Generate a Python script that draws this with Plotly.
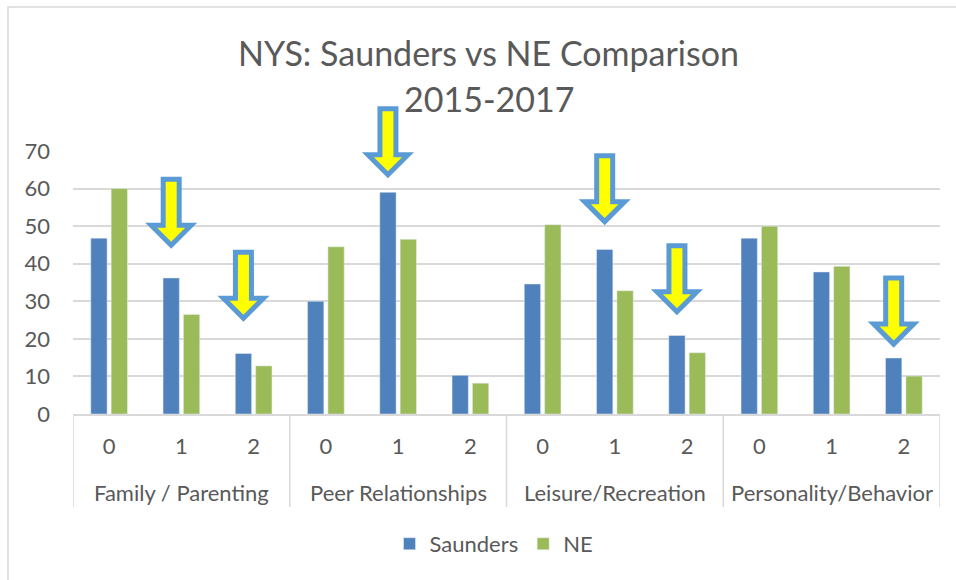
import plotly.graph_objects as go

# ---- data ----
groups = ["Family / Parenting", "Peer Relationships", "Leisure/Recreation", "Personality/Behavior"]
levels = ["0", "1", "2"]
saunders = [46.8, 36.2, 16.1, 30.0, 59.0, 10.3, 34.6, 43.8, 20.9, 46.8, 37.8, 14.9]
ne = [60.0, 26.5, 12.8, 44.5, 46.5, 8.2, 50.4, 32.8, 16.3, 50.0, 39.3, 10.1]
# arrows: slot index (bar position) and value where the arrow tip points
arrow_slots = [1, 2, 4, 7, 8, 11]
arrow_tips = [44.9, 25.5, 63.7, 51.2, 27.2, 18.6]
title_line1 = "NYS: Saunders vs NE Comparison"
title_line2 = "2015-2017"

# ---- derived ----
x = list(range(len(groups) * len(levels)))
ticktext = [lv for _ in groups for lv in levels]
y_max = 70
FONT = "Lato"
TXT = "#595959"
GRID = "#D9D9D9"

BARGAP = 0.436
BARGROUPGAP = 0.2
bar_offset = (1 - BARGAP) / 4  # centre of first trace within group

fig = go.Figure()
fig.add_trace(go.Bar(name="Saunders", x=x, y=saunders, marker_color="#4F81BD"))
fig.add_trace(go.Bar(name="NE", x=x, y=ne, marker_color="#9BBB59"))

shapes = []
# group dividers
n = len(levels)
for g in range(len(groups) + 1):
    shapes.append(dict(type="line", xref="x", yref="paper",
                       x0=g * n - 0.5, x1=g * n - 0.5, y0=0, y1=-0.354,
                       line=dict(color=GRID, width=1.5)))
# arrows
arrow_path = "M0,0 L-20,20 L-8,20 L-8,66 L8,66 L8,20 L20,20 Z"
for s, t in zip(arrow_slots, arrow_tips):
    shapes.append(dict(type="path", xref="x", yref="paper",
                       xsizemode="pixel", ysizemode="pixel",
                       xanchor=s - bar_offset, yanchor=t / y_max,
                       path=arrow_path, fillcolor="#FFFF00",
                       line=dict(color="#5B9BD5", width=5), layer="above"))
# chart border
shapes.append(dict(type="rect", xref="paper", yref="paper",
                   x0=-0.075, x1=1.06, y0=-0.8, y1=1.5475,
                   line=dict(color=GRID, width=1.5), fillcolor="rgba(0,0,0,0)"))

annotations = []
for i, gname in enumerate(groups):
    annotations.append(dict(text=gname, xref="x", yref="paper", x=i * n + (n - 1) / 2,
                            y=-0.300, yanchor="middle", showarrow=False,
                            font=dict(family=FONT, size=22, color=TXT)))
annotations.append(dict(text=title_line1, xref="paper", yref="paper", x=0.4798, y=1.376,
                        xanchor="center", yanchor="middle", showarrow=False,
                        font=dict(family=FONT, size=34, color=TXT)))
annotations.append(dict(text=title_line2, xref="paper", yref="paper", x=0.4798, y=1.2015,
                        xanchor="center", yanchor="middle", showarrow=False,
                        font=dict(family=FONT, size=34, color=TXT)))

fig.update_layout(
    width=956, height=580,
    margin=dict(l=73, r=16, t=151, b=166),
    paper_bgcolor="white", plot_bgcolor="white",
    barmode="group", bargap=BARGAP, bargroupgap=BARGROUPGAP,
    font=dict(family=FONT, color=TXT),
    shapes=shapes, annotations=annotations,
    legend=dict(orientation="h", x=0.4856, xanchor="center", y=-0.494, yanchor="middle",
                font=dict(family=FONT, size=22, color=TXT), bgcolor="rgba(0,0,0,0)"),
    xaxis=dict(range=[-0.5, len(x) - 0.5], tickmode="array", tickvals=x, ticktext=ticktext,
               showgrid=False, showline=True, linecolor=GRID, linewidth=1.5,
               ticks="", ticklabelstandoff=12, zeroline=False,
               tickfont=dict(family=FONT, size=22, color=TXT)),
    yaxis=dict(range=[0, y_max], tickmode="array", tickvals=list(range(0, y_max + 1, 10)),
               showgrid=True, gridcolor=GRID, gridwidth=1.5, zeroline=False,
               showline=False, ticks="", ticklabelstandoff=22,
               tickfont=dict(family=FONT, size=22, color=TXT)),
)

fig.write_html("out.html", config={"displayModeBar": False},
               post_script="document.body.style.margin='0';")
